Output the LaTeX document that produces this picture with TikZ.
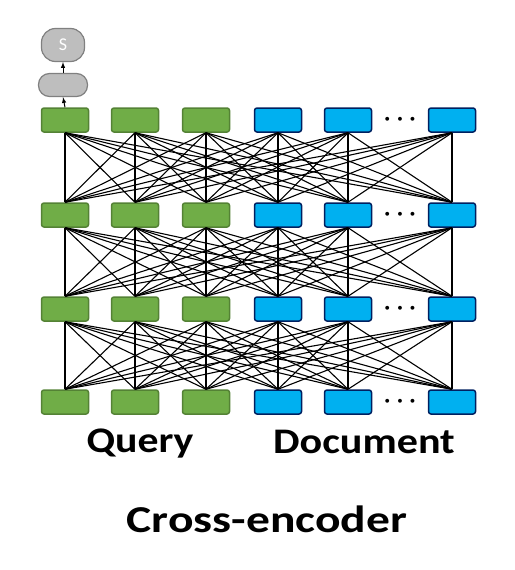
\documentclass[tikz,border=0pt]{standalone}
\usepackage{fontspec}
\setmainfont{Carlito}
\usetikzlibrary{arrows, math}
\definecolor{qgreen}{RGB}{112,173,71}
\definecolor{qgreenline}{RGB}{84,130,53}
\definecolor{dblue}{RGB}{0,176,240}
\definecolor{dblueline}{RGB}{0,32,96}
\definecolor{sgray}{RGB}{190,190,190}
\definecolor{sgrayline}{RGB}{128,128,128}

\tikzset{
  tok/.style={minimum width=\bw pt, minimum height=\bh pt, rounded corners=2.5pt, line width=1.5pt, inner sep=0pt},
  qbox/.style={tok, fill=qgreen, draw=qgreenline},
  dbox/.style={tok, fill=dblue, draw=dblueline},
  gbox/.style={fill=sgray, draw=sgrayline, line width=1.2pt, rounded corners=11pt, inner sep=0pt},
  lbl/.style={font=\fontsize{36}{40}\selectfont\bfseries, inner sep=0pt, anchor=base}
}

\begin{document}
\begin{tikzpicture}[x=1pt,y=-1pt]
\tikzmath{
\bw=47;
\bh=24;
}
\useasboundingbox (0,0) rectangle (514,570);

% token boxes, four layers
\foreach \r/\yp in {1/120,2/215,3/309,4/402}{
\foreach \c/\xp in {1/65,2/135,3/206}{
\node[qbox] (b\r\c) at (\xp,\yp) {};
}
\foreach \c/\xp in {4/278,5/348,6/452}{
\node[dbox] (b\r\c) at (\xp,\yp) {};
}
\node[font=\fontsize{25}{25}\selectfont\boldmath, inner sep=0pt] (dots\r) at (400,\yp) {$\cdots$};
}

% all-to-all between layers
\foreach \r/\s in {1/2,2/3,3/4}{
\foreach \i in {1,...,6}{
\foreach \j in {1,...,6}{
\draw[line width=1.1] (b\r\i.south) -- (b\s\j.north);
}
}
}

\node[gbox, minimum width=49pt, minimum height=23pt] (hid) at (63,85) {};
\node[gbox, minimum width=43pt, minimum height=33pt, rounded corners=14pt, text=white,
      font=\fontsize{18}{18}\selectfont] (score) at (63,45) {S};
\draw[-latex, line width=1] (b11.north) -- (hid.south);
\draw[-latex, line width=1] (hid.north) -- (score.south);

\node[lbl] (query) at (140,452) {\scalebox{1.16}[1]{Query}};
\node[lbl] (doc) at (364,453) {\scalebox{1.17}[1]{Document}};
\node[lbl, font=\fontsize{38}{42}\selectfont\bfseries] (title) at (267,532) {\scalebox{1.25}[1]{Cross-encoder}};

\end{tikzpicture}
\end{document}
